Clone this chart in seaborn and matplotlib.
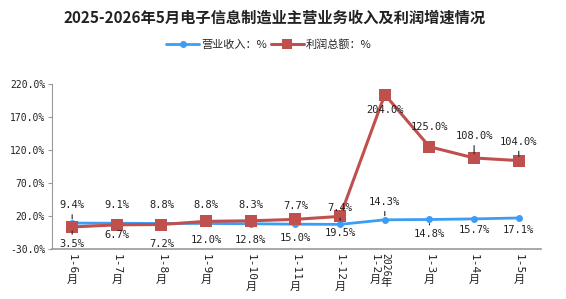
import numpy as np
import pandas as pd
import matplotlib
matplotlib.use('Agg')
import matplotlib.pyplot as plt
import seaborn as sns

# data
periods = ['1-6', '1-7', '1-8', '1-9', '1-10', '1-11', '1-12', '1-2', '1-3', '1-4', '1-5']
revenue = [9.4, 9.1, 8.8, 8.8, 8.3, 7.7, 7.4, 14.3, 14.8, 15.7, 17.1]
profit = [3.5, 6.7, 7.2, 12.0, 12.8, 15.0, 19.5, 204.0, 125.0, 108.0, 104.0]
yticks = [-30, 20, 70, 120, 170, 220]
name_rev = '营业收入：%'
name_pro = '利润总额：%'

# label offsets in pixels (up positive)
rev_off = [18, 18, 18, 18, 19, 18, 16, 18, -15, -11, -12]
pro_off = [-17, -10, -19, -19, -19, -19, -17, -15, 20, 22, 19]
# labels that have a small leader line
rev_lead = [0, 6, 7, 8]
pro_lead = [0, 9, 10]

sns.set_style('ticks')
plt.rcParams['font.family'] = ['Noto Sans CJK SC', 'DejaVu Sans']
mono = ['DejaVu Sans Mono', 'Noto Sans CJK SC']

df = pd.DataFrame({
    'x': list(range(len(periods))) * 2,
    'v': revenue + profit,
    's': [name_rev] * len(revenue) + [name_pro] * len(profit),
})

fig = plt.figure(figsize=(5.66, 2.99), dpi=100)
ax = fig.add_axes([0.092, 0.167, 0.864, 0.552])

blue = '#3C9DF5'
red = '#C0504D'
sns.lineplot(data=df, x='x', y='v', hue='s', style='s',
             palette={name_rev: blue, name_pro: red},
             markers={name_rev: 'o', name_pro: 's'},
             dashes=False, ax=ax, legend=False)
lines = ax.get_lines()
lines[0].set_linewidth(2.0); lines[0].set_markersize(5)
lines[1].set_linewidth(2.2); lines[1].set_markersize(8)
for ln in lines:
    ln.set_markeredgewidth(0)

ax.set_xlim(-0.45, len(periods) - 0.5)
ax.set_ylim(-30, 220)
ax.set_yticks(yticks)
ax.set_yticklabels([f'{t:.1f}%' for t in yticks], family=mono, fontsize=7, color='#222222')
ax.set_xticks([])
ax.set_xlabel('')
ax.set_ylabel('')
for s in ['top', 'right']:
    ax.spines[s].set_visible(False)
ax.spines['left'].set_color('#999999')
ax.spines['bottom'].set_color('#999999')
ax.spines['bottom'].set_linewidth(1.2)
ax.tick_params(axis='y', length=3, color='#999999', pad=2)

lead = dict(arrowstyle='-', color='#222222', lw=0.8, shrinkA=1, shrinkB=3)
for i, (v, o) in enumerate(zip(revenue, rev_off)):
    ax.annotate(f'{v:.1f}%', (i, v), xytext=(0, o), textcoords='offset pixels',
                ha='center', va='center', family=mono, fontsize=7.5, color='#222222',
                arrowprops=lead if i in rev_lead else None, zorder=5)
for i, (v, o) in enumerate(zip(profit, pro_off)):
    ax.annotate(f'{v:.1f}%', (i, v), xytext=(0, o), textcoords='offset pixels',
                ha='center', va='center', family=mono, fontsize=7.5, color='#222222',
                arrowprops=lead if i in pro_lead else None, zorder=5)

# x category labels: rotated number, upright 月
trans = ax.get_xaxis_transform()
for i, p in enumerate(periods):
    dx = -10 if i == 7 else 0
    t = ax.annotate(p, (i, 0), xycoords=trans, xytext=(dx, -5), textcoords='offset pixels',
                    rotation=-90, ha='center', va='top', family=mono, fontsize=8,
                    color='#222222')
    ax.annotate('月', (0.5, 0), xycoords=t, xytext=(0, -1), textcoords='offset pixels',
                ha='center', va='top', fontsize=8, color='#222222')
    if i == 7:
        t2 = ax.annotate('2026', (i, 0), xycoords=trans, xytext=(1, -4), textcoords='offset pixels',
                         rotation=-90, ha='center', va='top', family=mono, fontsize=7,
                         color='#222222')
        ax.annotate('年', (0.5, 0), xycoords=t2, xytext=(0, -1), textcoords='offset pixels',
                    ha='center', va='top', fontsize=8, color='#222222')

fig.text(0.485, 0.94, '2025-2026年5月电子信息制造业主营业务收入及利润增速情况',
         ha='center', va='center', fontsize=11, fontweight='bold', color='#222222')

handles = [plt.Line2D([], [], color=blue, lw=2, marker='o', ms=5, mew=0),
           plt.Line2D([], [], color=red, lw=2.2, marker='s', ms=7, mew=0)]
fig.legend(handles, [name_rev, name_pro], loc='center', bbox_to_anchor=(0.475, 0.85),
           ncol=2, frameon=False, fontsize=8, handlelength=3, columnspacing=0.3,
           handletextpad=0.2)

fig.savefig('out.png', dpi=100)
